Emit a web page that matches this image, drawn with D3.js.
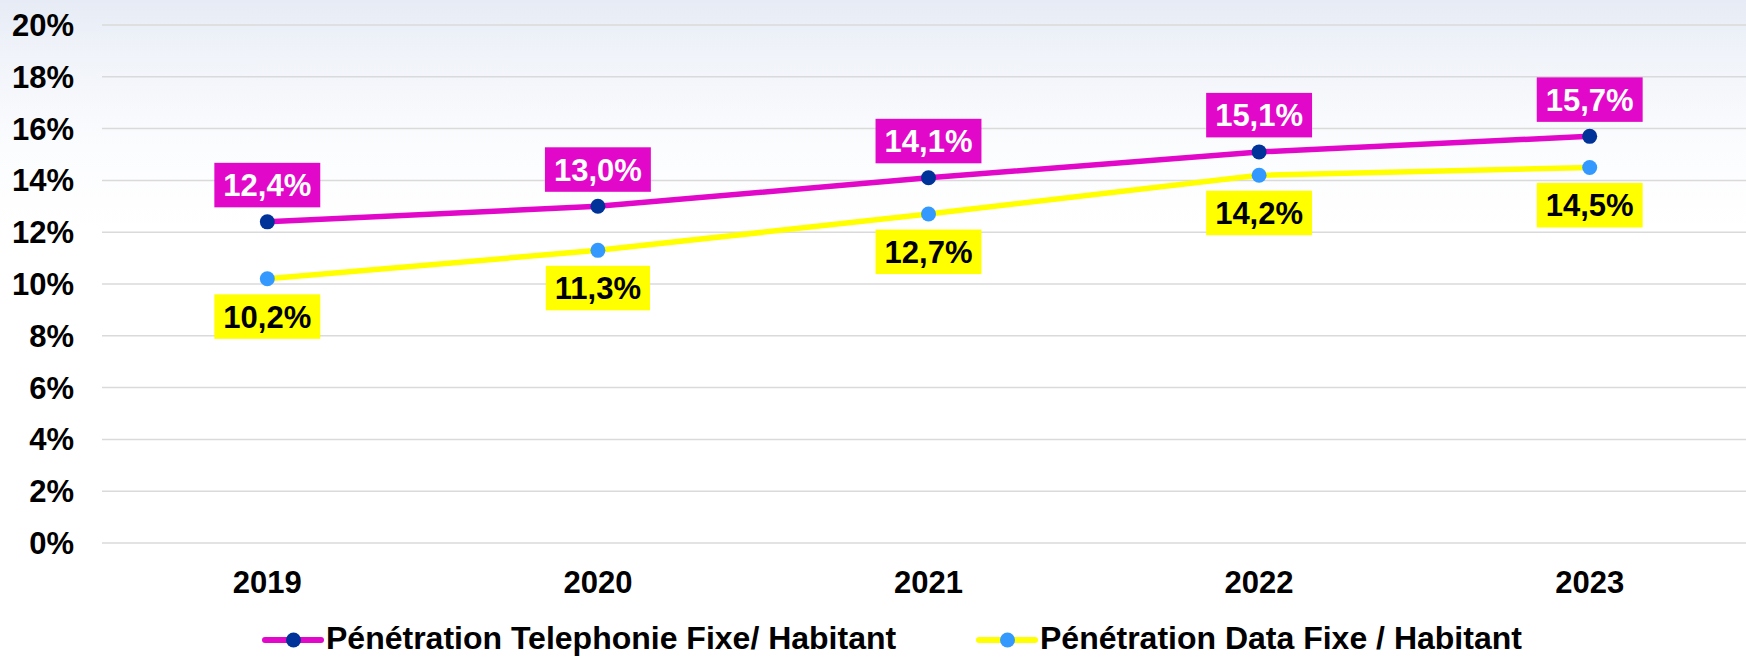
<!DOCTYPE html>
<html>
<head>
<meta charset="utf-8">
<script src="https://cdnjs.cloudflare.com/ajax/libs/d3/7.8.5/d3.min.js"></script>
<style>
  html, body { margin: 0; padding: 0; background: #ffffff; }
  svg { display: block; }
  text { font-family: "Liberation Sans", Arial, sans-serif; font-weight: bold; }
</style>
</head>
<body>
<svg id="chart" width="1746" height="657"></svg>
<script>
// ---- data ----
const years = ["2019", "2020", "2021", "2022", "2023"];
const telephonieFixe = [0.124, 0.130, 0.141, 0.151, 0.157];
const dataFixe = [0.102, 0.113, 0.127, 0.142, 0.145];
const yTicks = [0, 0.02, 0.04, 0.06, 0.08, 0.10, 0.12, 0.14, 0.16, 0.18, 0.20];
const seriesNames = ["Pénétration Telephonie Fixe/ Habitant", "Pénétration Data Fixe / Habitant"];
const labelsTel = ["12,4%", "13,0%", "14,1%", "15,1%", "15,7%"];
const labelsData = ["10,2%", "11,3%", "12,7%", "14,2%", "14,5%"];

const W = 1746, H = 657;
const svg = d3.select("#chart");

// background gradient
const defs = svg.append("defs");
const grad = defs.append("linearGradient").attr("id", "bg").attr("x1", 0).attr("y1", 0).attr("x2", 0).attr("y2", 1);
grad.append("stop").attr("offset", "0").attr("stop-color", "#e6ebf5");
grad.append("stop").attr("offset", "0.08").attr("stop-color", "#f0f3f9");
grad.append("stop").attr("offset", "0.22").attr("stop-color", "#fbfcfe");
grad.append("stop").attr("offset", "0.35").attr("stop-color", "#ffffff");
svg.append("rect").attr("width", W).attr("height", H).attr("fill", "url(#bg)");

const x = d3.scaleBand().domain(years).range([102, 1755]).padding(0);
const cx = d => x(d) + x.bandwidth() / 2;
const y = d3.scaleLinear().domain([0, 0.20]).range([543, 25]);

// grid
svg.append("g").selectAll("line").data(yTicks).join("line")
  .attr("x1", 102).attr("x2", W)
  .attr("y1", d => y(d)).attr("y2", d => y(d))
  .attr("stroke", "#dadada").attr("stroke-width", 1.5);

// y tick labels
const fmtPct = d3.format(".0%");
svg.append("g").selectAll("text").data(yTicks).join("text")
  .attr("x", 74).attr("y", d => y(d) + 11)
  .attr("text-anchor", "end").attr("font-size", 31).attr("fill", "#000")
  .text(d => fmtPct(d));

// x labels
svg.append("g").selectAll("text").data(years).join("text")
  .attr("x", d => cx(d)).attr("y", 593)
  .attr("text-anchor", "middle").attr("font-size", 31).attr("fill", "#000")
  .text(d => d);

const MAG = "#e208c9", NAVY = "#003399", YEL = "#ffff00", LBLUE = "#3399ff";

const line = d3.line().x((d, i) => cx(years[i])).y(d => y(d));

svg.append("path").datum(dataFixe).attr("d", line)
  .attr("fill", "none").attr("stroke", YEL).attr("stroke-width", 5.5);
svg.append("path").datum(telephonieFixe).attr("d", line)
  .attr("fill", "none").attr("stroke", MAG).attr("stroke-width", 5.5);

svg.append("g").selectAll("circle").data(dataFixe).join("circle")
  .attr("cx", (d, i) => cx(years[i])).attr("cy", d => y(d)).attr("r", 7.5).attr("fill", LBLUE);
svg.append("g").selectAll("circle").data(telephonieFixe).join("circle")
  .attr("cx", (d, i) => cx(years[i])).attr("cy", d => y(d)).attr("r", 7.5).attr("fill", NAVY);

// data labels
function drawLabels(vals, labels, above, boxColor, textColor) {
  const g = svg.append("g");
  vals.forEach((v, i) => {
    const px = cx(years[i]), py = y(v);
    const bh = 44.5;
    const top = above ? py - 14.5 - bh : py + 15.5;
    const lg = g.append("g");
    const rect = lg.append("rect").attr("fill", boxColor);
    const t = lg.append("text").attr("x", px).attr("y", top + bh / 2 + 11)
      .attr("text-anchor", "middle").attr("font-size", 31).attr("fill", textColor)
      .text(labels[i]);
    const tw = t.node().getComputedTextLength();
    const bw = tw + 18;
    rect.attr("x", px - bw / 2).attr("y", top).attr("width", bw).attr("height", bh);
  });
}
drawLabels(telephonieFixe, labelsTel, true, MAG, "#ffffff");
drawLabels(dataFixe, labelsData, false, YEL, "#000000");

// legend
const legendItems = [
  { name: seriesNames[0], lx: 265, lineColor: MAG, dot: NAVY },
  { name: seriesNames[1], lx: 979, lineColor: YEL, dot: LBLUE }
];
const lg = svg.append("g");
legendItems.forEach(it => {
  lg.append("line").attr("x1", it.lx).attr("x2", it.lx + 56).attr("y1", 640).attr("y2", 640)
    .attr("stroke", it.lineColor).attr("stroke-width", 6).attr("stroke-linecap", "round");
  lg.append("circle").attr("cx", it.lx + 28.5).attr("cy", 640).attr("r", 7.5).attr("fill", it.dot);
  lg.append("text").attr("x", it.lx + 61).attr("y", 649).attr("font-size", 32).attr("fill", "#000")
    .text(it.name);
});
</script>
</body>
</html>
